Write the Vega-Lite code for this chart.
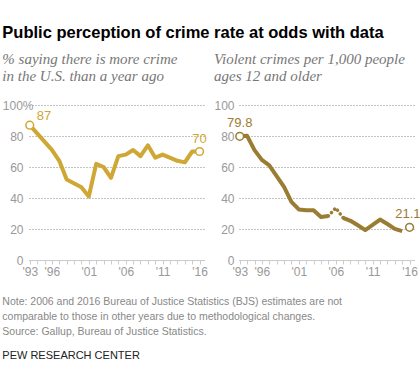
{
  "$schema": "https://vega.github.io/schema/vega-lite/v6.json",
  "background": "white",
  "padding": {"left": 2, "top": 24, "right": 0, "bottom": 0},
  "title": {
    "text": "Public perception of crime rate at odds with data",
    "anchor": "start",
    "frame": "bounds",
    "font": "Liberation Sans",
    "fontSize": 16.5,
    "fontWeight": "bold",
    "color": "#000000",
    "offset": 11
  },
  "config": {
    "view": {"stroke": null},
    "axis": {"labelFont": "Liberation Sans", "labelFontSize": 12, "labelColor": "#999999", "title": null},
    "text": {"font": "Liberation Sans", "fontSize": 13}
  },
  "vconcat": [
    {
      "title": {
        "text": [
          "Note: 2006 and 2016 Bureau of Justice Statistics (BJS) estimates are not",
          "comparable to those in other years due to methodological changes.",
          "Source: Gallup, Bureau of Justice Statistics."
        ],
        "subtitle": "PEW RESEARCH CENTER",
        "orient": "bottom",
        "anchor": "start",
        "frame": "bounds",
        "font": "Liberation Sans",
        "fontSize": 10.5,
        "fontWeight": "normal",
        "color": "#888888",
        "lineHeight": 15,
        "subtitleFont": "Liberation Sans",
        "subtitleFontSize": 11,
        "subtitleColor": "#222222",
        "subtitlePadding": 12,
        "offset": 20
      },
      "spacing": 5,
      "hconcat": [
        {
          "width": 175,
          "height": 155,
          "title": {
            "text": ["% saying there is more crime", "in the U.S. than a year ago"],
            "anchor": "start",
            "frame": "bounds",
            "font": "Liberation Serif",
            "fontStyle": "italic",
            "fontWeight": "normal",
            "fontSize": 15,
            "color": "#777777",
            "lineHeight": 17,
            "offset": 15
          },
          "data": {
            "values": [
              {"year": 1993, "value": 87},
              {"year": 1996, "value": 71},
              {"year": 1997, "value": 64},
              {"year": 1998, "value": 52},
              {"year": 2000, "value": 47},
              {"year": 2001, "value": 41},
              {"year": 2002, "value": 62},
              {"year": 2003, "value": 60},
              {"year": 2004, "value": 53},
              {"year": 2005, "value": 67},
              {"year": 2006, "value": 68},
              {"year": 2007, "value": 71},
              {"year": 2008, "value": 67},
              {"year": 2009, "value": 74},
              {"year": 2010, "value": 66},
              {"year": 2011, "value": 68},
              {"year": 2013, "value": 64},
              {"year": 2014, "value": 63},
              {"year": 2015, "value": 70},
              {"year": 2016, "value": 70}
            ]
          },
          "encoding": {
            "x": {
              "field": "year",
              "type": "quantitative",
              "scale": {"domain": [1992.9, 2016.6], "nice": false, "zero": false},
              "axis": {
                "values": [1993,1994,1995,1996,1997,1998,1999,2000,2001,2002,2003,2004,2005,2006,2007,2008,2009,2010,2011,2012,2013,2014,2015,2016],
                "labelExpr": "indexof([1993,1996,2001,2006,2011,2016], datum.value) >= 0 ? \"'\" + slice(toString(datum.value), 2) : ''",
                "grid": false,
                "domainColor": "#cccccc",
                "tickColor": "#cccccc",
                "tickSize": 4,
                "labelPadding": 2,
                "labelOverlap": false,
                "labelFlush": false
              }
            },
            "y": {
              "field": "value",
              "type": "quantitative",
              "scale": {"domain": [0, 100], "nice": false},
              "axis": {
                "values": [0, 20, 40, 60, 80, 100],
                "labelExpr": "datum.value == 100 ? '100%' : datum.label",
                "domain": false,
                "ticks": false,
                "grid": true,
                "gridDash": [1, 2],
                "gridColor": "#888888",
                "labelPadding": {"condition": {"test": "datum.value == 100", "value": -4}, "value": 6}
              }
            }
          },
          "layer": [
            {"mark": {"type": "line", "color": "#CFA735", "strokeWidth": 4, "strokeJoin": "round"}},
            {
              "transform": [{"filter": "datum.year == 1993 || datum.year == 2016"}],
              "mark": {"type": "point", "filled": true, "fill": "white", "stroke": "#CFA735", "strokeWidth": 1.5, "size": 60, "opacity": 1}
            },
            {
              "transform": [{"filter": "datum.year == 1993"}],
              "mark": {"type": "text", "align": "left", "dx": 7, "dy": -9, "color": "#CFA735"},
              "encoding": {"text": {"field": "value", "type": "quantitative"}}
            },
            {
              "transform": [{"filter": "datum.year == 2016"}],
              "mark": {"type": "text", "align": "center", "dy": -13, "color": "#CFA735"},
              "encoding": {"text": {"field": "value", "type": "quantitative"}}
            }
          ]
        },
        {
          "width": 175,
          "height": 155,
          "title": {
            "text": ["Violent crimes per 1,000 people", "ages 12 and older"],
            "anchor": "start",
            "frame": "bounds",
            "font": "Liberation Serif",
            "fontStyle": "italic",
            "fontWeight": "normal",
            "fontSize": 15,
            "color": "#777777",
            "lineHeight": 17,
            "offset": 15
          },
          "data": {
            "values": [
              {"year": 1993, "value": 79.8, "seg": "a"},
              {"year": 1994, "value": 80.1, "seg": "a"},
              {"year": 1995, "value": 70.9, "seg": "a"},
              {"year": 1996, "value": 64.6, "seg": "a"},
              {"year": 1997, "value": 61.1, "seg": "a"},
              {"year": 1998, "value": 54.1, "seg": "a"},
              {"year": 1999, "value": 47.2, "seg": "a"},
              {"year": 2000, "value": 37.5, "seg": "a"},
              {"year": 2001, "value": 32.6, "seg": "a"},
              {"year": 2002, "value": 32.1, "seg": "a"},
              {"year": 2003, "value": 32.1, "seg": "a"},
              {"year": 2004, "value": 27.8, "seg": "a"},
              {"year": 2005, "value": 28.4, "seg": "a"},
              {"year": 2005, "value": 28.4, "seg": "b"},
              {"year": 2006, "value": 33.6, "seg": "b"},
              {"year": 2007, "value": 27.2, "seg": "b"},
              {"year": 2007, "value": 27.2, "seg": "c"},
              {"year": 2008, "value": 25.3, "seg": "c"},
              {"year": 2009, "value": 22.4, "seg": "c"},
              {"year": 2010, "value": 19.3, "seg": "c"},
              {"year": 2011, "value": 22.6, "seg": "c"},
              {"year": 2012, "value": 26.1, "seg": "c"},
              {"year": 2013, "value": 23.2, "seg": "c"},
              {"year": 2014, "value": 20.1, "seg": "c"},
              {"year": 2015, "value": 18.6, "seg": "c"},
              {"year": 2016, "value": 21.1, "seg": "d"}
            ]
          },
          "encoding": {
            "x": {
              "field": "year",
              "type": "quantitative",
              "scale": {"domain": [1992.9, 2016.6], "nice": false, "zero": false},
              "axis": {
                "values": [1993,1994,1995,1996,1997,1998,1999,2000,2001,2002,2003,2004,2005,2006,2007,2008,2009,2010,2011,2012,2013,2014,2015,2016],
                "labelExpr": "indexof([1993,1996,2001,2006,2011,2016], datum.value) >= 0 ? \"'\" + slice(toString(datum.value), 2) : ''",
                "grid": false,
                "domainColor": "#cccccc",
                "tickColor": "#cccccc",
                "tickSize": 4,
                "labelPadding": 2,
                "labelOverlap": false,
                "labelFlush": false
              }
            },
            "y": {
              "field": "value",
              "type": "quantitative",
              "scale": {"domain": [0, 100], "nice": false},
              "axis": {
                "values": [0, 20, 40, 60, 80, 100],
                "domain": false,
                "ticks": false,
                "grid": true,
                "gridDash": [1, 2],
                "gridColor": "#888888",
                "labelPadding": 5
              }
            }
          },
          "layer": [
            {
              "transform": [{"filter": "datum.seg == 'a' || datum.seg == 'c'"}],
              "mark": {"type": "line", "color": "#9A7D32", "strokeWidth": 4, "strokeJoin": "round"},
              "encoding": {"detail": {"field": "seg"}}
            },
            {
              "transform": [{"filter": "datum.seg == 'b'"}],
              "mark": {"type": "line", "color": "#9A7D32", "strokeWidth": 3.5, "strokeCap": "round", "strokeDash": [0.1, 4.5]}
            },
            {
              "transform": [{"filter": "datum.year == 1993 || datum.year == 2016"}],
              "mark": {"type": "point", "filled": true, "fill": "white", "stroke": "#9A7D32", "strokeWidth": 1.5, "size": 60, "opacity": 1}
            },
            {
              "transform": [{"filter": "datum.year == 1993 && datum.seg == 'a'"}],
              "mark": {"type": "text", "align": "center", "dy": -13, "color": "#9A7D32"},
              "encoding": {"text": {"field": "value", "type": "quantitative", "format": ".1f"}}
            },
            {
              "transform": [{"filter": "datum.year == 2016"}],
              "mark": {"type": "text", "align": "right", "dx": 11, "dy": -13, "color": "#9A7D32"},
              "encoding": {"text": {"field": "value", "type": "quantitative", "format": ".1f"}}
            }
          ]
        }
      ]
    }
  ]
}
